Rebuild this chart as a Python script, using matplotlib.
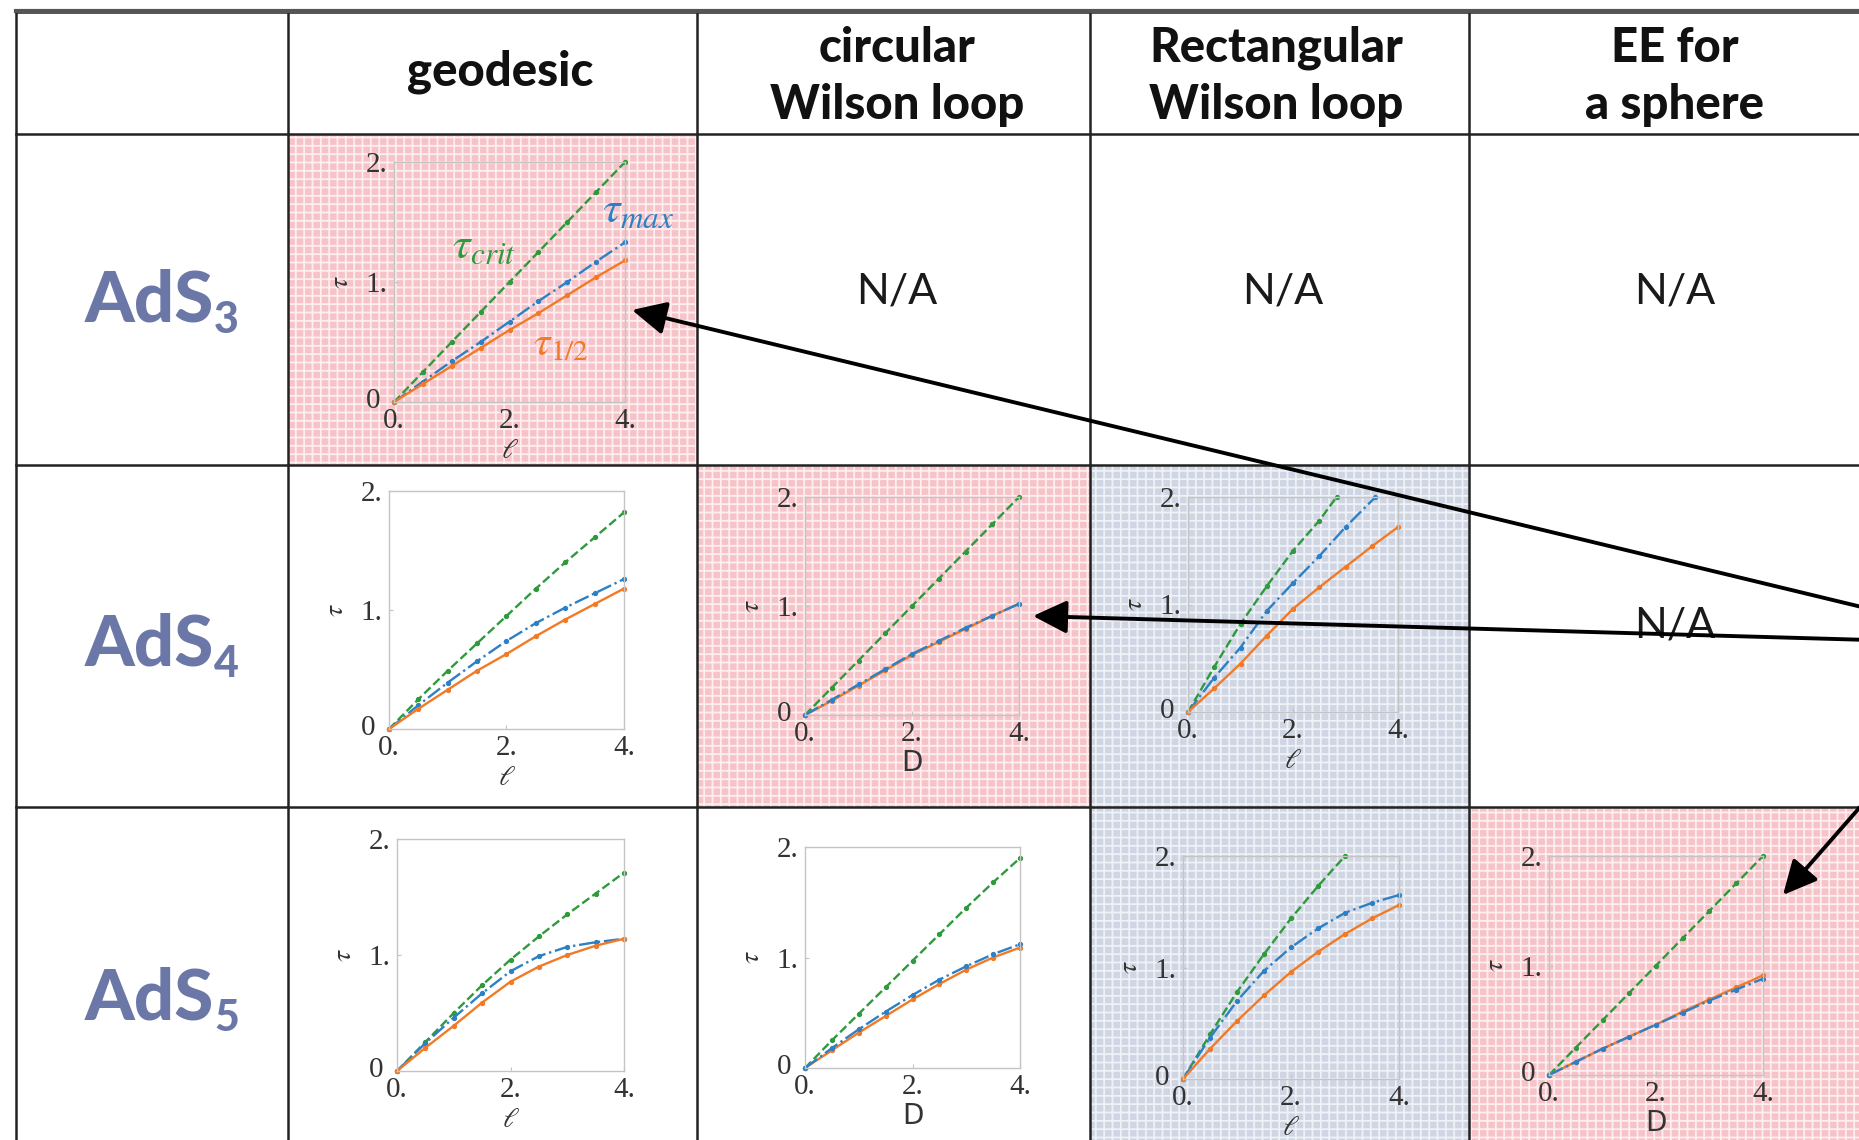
import matplotlib
matplotlib.use("Agg")
import matplotlib.pyplot as plt
from matplotlib.patches import Rectangle, FancyArrowPatch
from matplotlib.transforms import ScaledTranslation

plt.rcParams['mathtext.fontset'] = 'stix'
plt.rcParams['hatch.linewidth'] = 1.3

# ---------------- data ----------------
col_headers = [["geodesic"], ["circular", "Wilson loop"], ["Rectangular", "Wilson loop"], ["EE for", "a sphere"]]
row_labels = ["3", "4", "5"]

x_std = [0, 0.5, 1.0, 1.5, 2.0, 2.5, 3.0, 3.5, 4.0]

# AdS3 geodesic
geo3_crit = [0, 0.25, 0.50, 0.75, 1.00, 1.25, 1.50, 1.75, 2.00]
geo3_max = [0, 0.17, 0.34, 0.50, 0.67, 0.84, 1.00, 1.17, 1.33]
geo3_half = [0, 0.15, 0.30, 0.45, 0.60, 0.74, 0.89, 1.04, 1.18]
# AdS4 geodesic
geo4_crit = [0, 0.25, 0.49, 0.72, 0.95, 1.18, 1.40, 1.61, 1.82]
geo4_max = [0, 0.20, 0.39, 0.57, 0.74, 0.89, 1.02, 1.14, 1.26]
geo4_half = [0, 0.17, 0.33, 0.49, 0.63, 0.78, 0.92, 1.05, 1.18]
# AdS5 geodesic
geo5_crit = [0, 0.25, 0.50, 0.74, 0.96, 1.16, 1.35, 1.53, 1.71]
geo5_max = [0, 0.24, 0.46, 0.67, 0.86, 0.99, 1.07, 1.11, 1.14]
geo5_half = [0, 0.20, 0.39, 0.59, 0.77, 0.90, 1.00, 1.08, 1.14]
# AdS4 circular Wilson loop
cwl4_crit = [0, 0.25, 0.50, 0.75, 1.00, 1.25, 1.50, 1.75, 2.00]
cwl4_max = [0, 0.14, 0.28, 0.42, 0.56, 0.68, 0.80, 0.91, 1.02]
cwl4_half = [0, 0.13, 0.27, 0.41, 0.55, 0.67, 0.79, 0.91, 1.02]
# AdS5 circular Wilson loop
cwl5_crit = [0, 0.25, 0.49, 0.73, 0.97, 1.21, 1.45, 1.68, 1.90]
cwl5_max = [0, 0.18, 0.35, 0.51, 0.66, 0.80, 0.92, 1.03, 1.12]
cwl5_half = [0, 0.16, 0.32, 0.47, 0.62, 0.76, 0.89, 1.00, 1.09]
# AdS4 rectangular Wilson loop
rwl4_crit_x = [0, 0.5, 1.0, 1.5, 2.0, 2.5, 2.83]
rwl4_crit = [0, 0.42, 0.82, 1.17, 1.50, 1.78, 2.00]
rwl4_max_x = [0, 0.5, 1.0, 1.5, 2.0, 2.5, 3.0, 3.57]
rwl4_max = [0, 0.32, 0.60, 0.94, 1.20, 1.45, 1.72, 2.00]
rwl4_half = [0, 0.22, 0.45, 0.71, 0.96, 1.16, 1.35, 1.54, 1.72]
# AdS5 rectangular Wilson loop
rwl5_crit_x = [0, 0.5, 1.0, 1.5, 2.0, 2.5, 3.0]
rwl5_crit = [0, 0.40, 0.78, 1.12, 1.44, 1.73, 2.00]
rwl5_max = [0, 0.37, 0.70, 0.97, 1.18, 1.35, 1.49, 1.58, 1.65]
rwl5_half = [0, 0.27, 0.52, 0.75, 0.96, 1.14, 1.30, 1.44, 1.56]
# AdS5 entanglement entropy for a sphere
ee5_crit = [0, 0.25, 0.50, 0.75, 1.00, 1.25, 1.50, 1.75, 2.00]
ee5_max = [0, 0.12, 0.24, 0.35, 0.46, 0.57, 0.68, 0.78, 0.88]
ee5_half = [0, 0.12, 0.24, 0.35, 0.46, 0.58, 0.69, 0.80, 0.91]

x_ticks = [0, 2, 4]
x_ticklabels = ["0.", "2.", "4."]
y_ticks = [0, 1, 2]
y_ticklabels = ["0", "1.", "2."]

# ---------------- styling ----------------
W, H = 1859, 1140
GREEN = '#2f9a3c'
BLUE = '#2c80c5'
ORANGE = '#f27a26'
LABEL_COL = '#6b77a6'
PINK_BASE, PINK_HATCH = '#f6c3c8', '#fdeef0'
BLUE_BASE, BLUE_HATCH = '#cfd5e3', '#eef1f6'

fig = plt.figure(figsize=(W / 100, H / 100), dpi=100)
bg = fig.add_axes([0, 0, 1, 1])
bg.set_xlim(0, W)
bg.set_ylim(H, 0)
bg.axis('off')

# textured cells
def tex_cell(x0, y0, x1, y1, base, hatch):
    bg.add_patch(Rectangle((x0, y0), x1 - x0, y1 - y0, facecolor=base,
                           edgecolor=hatch, hatch='++', lw=0, zorder=0))

tex_cell(288, 134, 697, 465, PINK_BASE, PINK_HATCH)
tex_cell(697, 465, 1090, 807, PINK_BASE, PINK_HATCH)
tex_cell(1469, 807, W + 5, H + 5, PINK_BASE, PINK_HATCH)
tex_cell(1090, 465, 1469, 807, BLUE_BASE, BLUE_HATCH)
tex_cell(1090, 807, 1469, H + 5, BLUE_BASE, BLUE_HATCH)

# table grid
vlines = [16, 288, 697, 1090, 1469]
hlines = [12, 134, 465, 807]
for xv in vlines:
    bg.plot([xv, xv], [12, H + 5], color='#222222', lw=1.8, zorder=2)
for yh in hlines:
    bg.plot([16, W + 5], [yh, yh], color='#222222', lw=1.8, zorder=2)
bg.plot([16, W + 5], [11, 11], color='#555555', lw=3.0, zorder=2)

# header text
hfont = dict(family='Lato', fontweight='black', fontsize=34, color='#111111', ha='center', va='baseline')
bg.text(500, 85, col_headers[0][0], **hfont)
for cx, lines in zip([897, 1276, 1675], col_headers[1:]):
    bg.text(cx, 62, lines[0], **hfont)
    bg.text(cx, 119, lines[1], **hfont)

# row labels
for base_y, sub in zip([322, 666, 1020], row_labels):
    bg.text(85, base_y, "AdS", family='Lato', fontweight='black', fontsize=51,
            color=LABEL_COL, ha='left', va='baseline')
    bg.text(214, base_y + 11, sub, family='Lato', fontweight='black', fontsize=31,
            color=LABEL_COL, ha='left', va='baseline')

# N/A cells
nfont = dict(family='Lato', fontsize=31, color='#1a1a1a', ha='center', va='center')
for cx, cy in [(897, 291), (1283, 291), (1675, 291), (1675, 626)]:
    bg.text(cx, cy, "N/A", **nfont)

# ---------------- mini plots ----------------
def panel(px0, py0, px1, py1, xlabel, curves):
    ax = fig.add_axes([px0 / W, 1 - py1 / H, (px1 - px0) / W, (py1 - py0) / H])
    ax.set_facecolor('none')
    for xs, ys, col, ls in curves:
        ax.plot(xs, ys, color=col, ls=ls, lw=1.7, marker='o', ms=2.8, clip_on=False)
    ax.set_xlim(0, 4)
    ax.set_ylim(0, 2)
    ax.set_xticks(x_ticks)
    ax.set_xticklabels(x_ticklabels)
    ax.set_yticks(y_ticks)
    ax.set_yticklabels(y_ticklabels)
    for s in ax.spines.values():
        s.set_color('#c4c4c4')
        s.set_linewidth(1.0)
    ax.tick_params(direction='in', length=3, color='#c4c4c4', labelsize=21,
                   labelcolor='#333333')
    ax.tick_params(axis='x', pad=4)
    ax.tick_params(axis='y', pad=5)
    for lab in ax.get_xticklabels() + ax.get_yticklabels():
        lab.set_family('Liberation Serif')
    # nudge the y "0" label left/up as in the reference (it sits beside the x "0.")
    zero_lab = ax.yaxis.get_major_ticks()[0].label1
    zero_lab.set_transform(zero_lab.get_transform() +
                           ScaledTranslation(-5 / 72, 3 / 72, fig.dpi_scale_trans))
    ax.set_xlabel(xlabel, fontsize=20, color='#333333', labelpad=2)
    ax.set_ylabel(r'$\tau$', fontsize=20, color='#333333', labelpad=8)
    return ax

ell = r'$\ell$'
ax3 = panel(394, 162, 625, 402, ell, [
    (x_std, geo3_crit, GREEN, '--'),
    (x_std, geo3_max, BLUE, '-.'),
    (x_std, geo3_half, ORANGE, '-')])
ax3.text(1.0, 1.20, r'$\tau_{crit}$', color=GREEN, fontsize=32)
ax3.text(3.6, 1.50, r'$\tau_{max}$', color=BLUE, fontsize=32, clip_on=False)
ax3.text(2.4, 0.40, r'$\tau_{1/2}$', color=ORANGE, fontsize=30)

panel(389, 491, 624, 729, ell, [
    (x_std, geo4_crit, GREEN, '--'),
    (x_std, geo4_max, BLUE, '-.'),
    (x_std, geo4_half, ORANGE, '-')])
panel(397, 839, 624, 1071, ell, [
    (x_std, geo5_crit, GREEN, '--'),
    (x_std, geo5_max, BLUE, '-.'),
    (x_std, geo5_half, ORANGE, '-')])
panel(805, 497, 1019, 715, 'D', [
    (x_std, cwl4_crit, GREEN, '--'),
    (x_std, cwl4_half, ORANGE, '-'),
    (x_std, cwl4_max, BLUE, '-.')])
panel(805, 847, 1020, 1068, 'D', [
    (x_std, cwl5_crit, GREEN, '--'),
    (x_std, cwl5_half, ORANGE, '-'),
    (x_std, cwl5_max, BLUE, '-.')])
panel(1188, 497, 1398, 712, ell, [
    (rwl4_crit_x, rwl4_crit, GREEN, '--'),
    (rwl4_max_x, rwl4_max, BLUE, '-.'),
    (x_std, rwl4_half, ORANGE, '-')])
panel(1183, 856, 1399, 1079, ell, [
    (rwl5_crit_x, rwl5_crit, GREEN, '--'),
    (x_std, rwl5_max, BLUE, '-.'),
    (x_std, rwl5_half, ORANGE, '-')])
panel(1549, 856, 1763, 1075, 'D', [
    (x_std, ee5_crit, GREEN, '--'),
    (x_std, ee5_half, ORANGE, '-'),
    (x_std, ee5_max, BLUE, '-.')])

# ---------------- arrows overlay ----------------
ov = fig.add_axes([0, 0, 1, 1])
ov.set_xlim(0, W)
ov.set_ylim(H, 0)
ov.axis('off')
ov.set_facecolor('none')
for (xa, ya), (xb, yb) in [((1870, 609), (632, 310)),
                           ((1870, 640), (1033, 616)),
                           ((1875, 790), (1783, 895))]:
    ov.add_patch(FancyArrowPatch((xa, ya), (xb, yb),
                                 arrowstyle='-|>,head_length=0.45,head_width=0.22',
                                 mutation_scale=46, lw=2.8, color='black',
                                 shrinkA=0, shrinkB=0, clip_on=False))

fig.savefig('out.png', dpi=100)
